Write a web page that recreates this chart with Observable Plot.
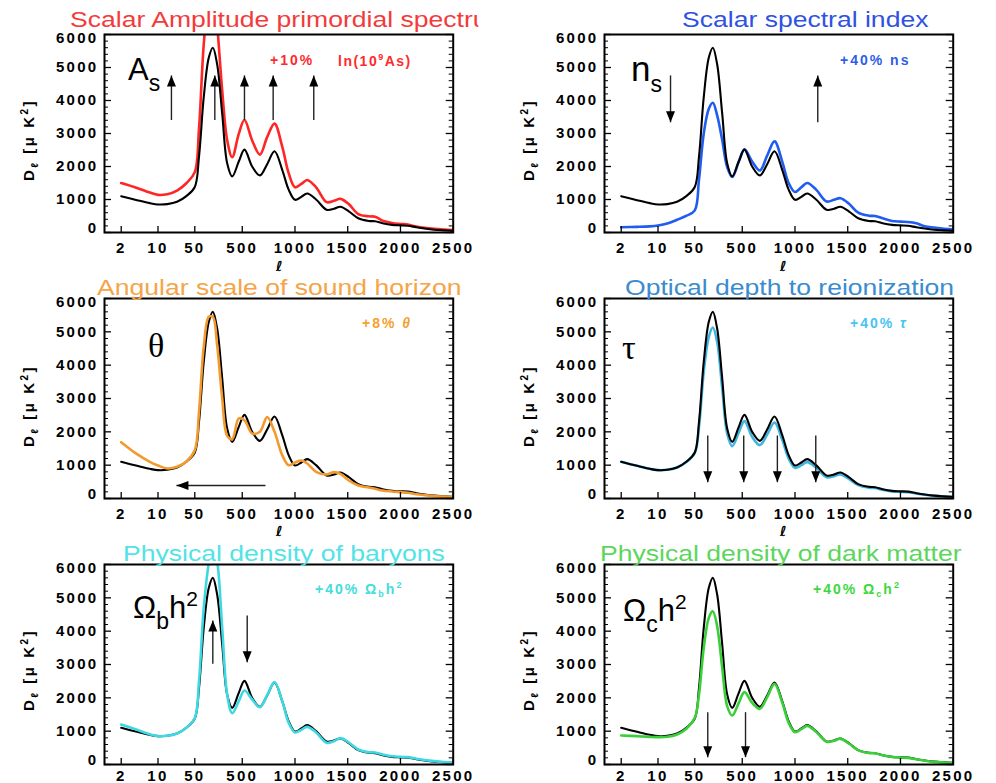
<!DOCTYPE html>
<html><head><meta charset="utf-8">
<script src="https://cdn.jsdelivr.net/npm/d3@7"></script>
<script src="https://cdn.jsdelivr.net/npm/@observablehq/plot@0.6"></script>
<style>
html,body{margin:0;padding:0;background:#fff;}
body{width:996px;height:783px;overflow:hidden;position:relative;font-family:"Liberation Sans",Arial,sans-serif;}
.panel{position:absolute;}
.t{position:absolute;white-space:nowrap;line-height:1;}
.title{font-size:22.5px;transform:scaleX(1.18);transform-origin:0 0;}
.big{font-size:31px;color:#000;}
.big .sub{font-size:23px;position:relative;top:11px;}
.big .sup{font-size:21px;position:relative;top:-12px;}
.serif{font-family:"Liberation Serif","Times New Roman",serif;font-size:34px;}
.small{font-size:14px;font-weight:bold;letter-spacing:2px;}
.small sup,.small sub{font-size:9px;}
.ylab{position:absolute;transform:translate(-50%,-50%) rotate(-90deg);font-weight:bold;font-size:15px;letter-spacing:2.5px;white-space:nowrap;line-height:1;}
.ylab sub,.ylab sup{font-size:10px;}
.ell{position:absolute;font-family:"DejaVu Sans",sans-serif;font-weight:bold;font-style:italic;font-size:14px;line-height:1;}
</style></head><body>
<div id="root"></div>
<script>
// multipole grid
const ell = [2, 4, 7, 10, 15, 23, 35, 50, 90, 135, 183, 221, 262, 310, 357, 405, 467, 521, 594, 667, 736, 806, 879, 940, 1000, 1060, 1116, 1200, 1300, 1370, 1431, 1510, 1600, 1700, 1760, 1830, 1920, 2000, 2070, 2150, 2230, 2320, 2410, 2500];
// fiducial spectrum (black)
const dBase = [1100, 980, 890, 850, 860, 930, 1110, 1380, 2300, 4100, 5300, 5600, 5100, 3600, 2100, 1700, 2150, 2510, 2000, 1730, 2070, 2460, 1900, 1300, 990, 1080, 1180, 1000, 690, 720, 780, 640, 430, 350, 340, 280, 230, 215, 205, 160, 120, 85, 65, 50];
// +10% ln(10^9 As)
const dAs = [1500, 1350, 1210, 1140, 1160, 1270, 1500, 1830, 3150, 5700, 7200, 7600, 6300, 4300, 2800, 2280, 2990, 3410, 2790, 2360, 2890, 3300, 2600, 1800, 1370, 1470, 1590, 1370, 920, 960, 1020, 860, 560, 490, 480, 360, 290, 260, 240, 180, 140, 110, 90, 75];
// +40% ns
const dNs = [160, 170, 185, 210, 270, 385, 510, 670, 1600, 3000, 3750, 3930, 3550, 2800, 1980, 1680, 2150, 2520, 2150, 1880, 2330, 2760, 2150, 1500, 1230, 1370, 1500, 1300, 940, 990, 1040, 880, 600, 510, 500, 430, 350, 330, 320, 280, 190, 150, 115, 95];
// +8% theta
const dTheta = [1690, 1330, 1100, 990, 900, 950, 1120, 1450, 2600, 4550, 5450, 5450, 4600, 3000, 1880, 1780, 2400, 2350, 1950, 2000, 2440, 2000, 1300, 1000, 1080, 1140, 1050, 800, 720, 790, 740, 540, 390, 330, 290, 240, 210, 190, 170, 130, 100, 70, 55, 45];
// +40% tau
const dTau = [1100, 980, 890, 850, 860, 930, 1100, 1370, 2150, 3800, 4850, 5130, 4700, 3300, 1950, 1570, 1980, 2320, 1850, 1600, 1920, 2280, 1760, 1200, 920, 1000, 1090, 930, 640, 670, 720, 590, 400, 325, 315, 260, 215, 200, 190, 150, 110, 80, 60, 45];
// +40% Omega_b h^2
const dOmb = [1200, 1040, 910, 850, 860, 930, 1110, 1390, 2500, 4700, 6050, 6600, 6100, 4100, 2100, 1540, 1900, 2220, 1950, 1720, 2080, 2470, 1900, 1250, 960, 1040, 1130, 960, 650, 700, 790, 660, 450, 370, 360, 300, 250, 230, 220, 175, 135, 100, 75, 60];
// +40% Omega_c h^2
const dOmc = [870, 850, 830, 820, 830, 900, 1080, 1400, 2100, 3500, 4400, 4600, 4150, 2900, 1750, 1470, 1850, 2170, 1850, 1670, 2020, 2420, 1860, 1250, 970, 1060, 1160, 980, 680, 710, 770, 630, 425, 345, 335, 275, 225, 210, 200, 155, 115, 80, 60, 45];

// axis ticks
const yMajor = [0, 1000, 2000, 3000, 4000, 5000, 6000];
const yMinor = [200, 400, 600, 800, 1200, 1400, 1600, 1800, 2200, 2400, 2600, 2800, 3200, 3400, 3600, 3800, 4200, 4400, 4600, 4800, 5200, 5400, 5600, 5800];
const xTickL = [2, 10, 50, 500, 1000, 1500, 2000, 2500];

// arrow annotations: multipole, start value, end value
const arrAsL = [18, 240, 521, 793, 1178];
const arrAsFrom = [3410, 3410, 3410, 3410, 3410];
const arrAsTo = [4760, 4760, 4760, 4760, 4760];
const arrNsL = [17.3, 1216];
const arrNsFrom = [4760, 3340];
const arrNsTo = [3340, 4760];
const arrThL1 = [720];
const arrThL2 = [22.4];
const arrThD = [390];
const arrTauL = [173, 514, 833, 1197];
const arrTauFrom = [1890, 1890, 1890, 1890];
const arrTauTo = [490, 490, 490, 490];
const arrObL = [221, 547];
const arrObFrom = [3020, 4470];
const arrObTo = [4320, 3070];
const arrOcL = [173, 531];
const arrOcFrom = [1570, 1570];
const arrOcTo = [220, 220];

// hybrid axis: log below l=50, linear above
const u = l => l >= 50 ? l - 50 : 499 * Math.log10(l / 50);
const xLab = new Map(xTickL.map(l => [u(l), String(l)]));

const rows = ell.map((l, i) => ({l, base: dBase[i], as: dAs[i], ns: dNs[i], th: dTheta[i], tau: dTau[i], omb: dOmb[i], omc: dOmc[i]}));

const frameL = 104, frameR = 452.7, W = 500;
const frameW = frameR - frameL;

const triUp = {draw(c){c.moveTo(0,0);c.lineTo(4.5,11);c.lineTo(-4.5,11);c.closePath();}};
const triDown = {draw(c){c.moveTo(0,0);c.lineTo(4.5,-11);c.lineTo(-4.5,-11);c.closePath();}};
const triLeft = {draw(c){c.moveTo(0,0);c.lineTo(12,-4.5);c.lineTo(12,4.5);c.closePath();}};

function vArrows(L, from, to) {
  const data = L.map((l, i) => ({l, a: from[i], b: to[i]}));
  return [
    Plot.link(data, {x1: d => u(d.l), x2: d => u(d.l), y1: "a", y2: "b", stroke: "#222", strokeWidth: 1.4}),
    Plot.dot(data.filter(d => d.b > d.a), {x: d => u(d.l), y: "b", symbol: triUp, fill: "#000", stroke: "none"}),
    Plot.dot(data.filter(d => d.b < d.a), {x: d => u(d.l), y: "b", symbol: triDown, fill: "#000", stroke: "none"})
  ];
}
function hArrows(L1, L2, D) {
  const data = L1.map((l, i) => ({a: l, b: L2[i], d: D[i]}));
  return [
    Plot.link(data, {x1: d => u(d.a), x2: d => u(d.b), y1: "d", y2: "d", stroke: "#222", strokeWidth: 1.4}),
    Plot.dot(data, {x: d => u(d.b), y: "d", symbol: triLeft, fill: "#000", stroke: "none"})
  ];
}

function panel({left, top, frameH, key, color, colorOnTop, arrows, xPad = 10}) {
  const colored = Plot.line(rows, {x: d => u(d.l), y: key, stroke: color, strokeWidth: 2.6, curve: "catmull-rom", clip: true});
  const black = Plot.line(rows, {x: d => u(d.l), y: "base", stroke: "#000", strokeWidth: 2.1, curve: "catmull-rom", clip: true});
  const fmt = d => String(d);
  const axOpts = {tickSize: 0, tickPadding: 6, label: null, tickFormat: fmt};
  const chart = Plot.plot({
    width: W, height: 34 + frameH + 44,
    marginLeft: frameL, marginRight: W - frameR, marginTop: 34, marginBottom: 44,
    x: {domain: [-856, 2450]},
    y: {domain: [0, 6000]},
    style: {background: "transparent", fontFamily: "'Liberation Sans', Arial, sans-serif", fontSize: "15px", fontWeight: "bold", letterSpacing: "2.3px", overflow: "visible", color: "#000"},
    marks: [
      ...(colorOnTop ? [black, colored] : [colored, black]),
      ...arrows,
      Plot.ruleY(yMajor, {insetRight: frameW - 7, stroke: "#000", strokeWidth: 1.3}),
      Plot.ruleY(yMinor, {insetRight: frameW - 4, stroke: "#000", strokeWidth: 1}),
      Plot.ruleY(yMajor, {insetLeft: frameW - 7, stroke: "#000", strokeWidth: 1.3}),
      Plot.ruleY(yMinor, {insetLeft: frameW - 4, stroke: "#000", strokeWidth: 1}),
      Plot.ruleX(xTickL.map(u), {insetTop: frameH - 6, stroke: "#000", strokeWidth: 1.3}),
      Plot.axisY(yMajor.filter(v => v > 0 && v < 6000), axOpts),
      Plot.axisY([6000], {...axOpts, dy: 4}),
      Plot.axisY([0], {...axOpts, dy: -4}),
      Plot.axisX(xTickL.map(u), {tickSize: 0, tickPadding: xPad, label: null, tickFormat: d => xLab.get(d)}),
      Plot.frame({stroke: "#000", strokeWidth: 2})
    ]
  });
  chart.classList.add("panel");
  chart.style.left = left + "px";
  chart.style.top = top + "px";
  document.getElementById("root").appendChild(chart);
}

panel({left: 0, top: 0, frameH: 198, key: "as", color: "#ff2626", colorOnTop: false, arrows: vArrows(arrAsL, arrAsFrom, arrAsTo)});
panel({left: 500, top: 0, frameH: 198, key: "ns", color: "#1f5cf0", colorOnTop: false, arrows: vArrows(arrNsL, arrNsFrom, arrNsTo)});
panel({left: 0, top: 264, frameH: 200, key: "th", color: "#f39a2e", colorOnTop: true, arrows: hArrows(arrThL1, arrThL2, arrThD)});
panel({left: 500, top: 264, frameH: 200, key: "tau", color: "#3fb4e0", colorOnTop: false, arrows: vArrows(arrTauL, arrTauFrom, arrTauTo)});
panel({left: 0, top: 530, frameH: 200, key: "omb", color: "#3ed8e2", colorOnTop: true, arrows: vArrows(arrObL, arrObFrom, arrObTo), xPad: 6});
panel({left: 500, top: 530, frameH: 200, key: "omc", color: "#38d038", colorOnTop: true, arrows: vArrows(arrOcL, arrOcFrom, arrOcTo), xPad: 6});
</script>

<!-- titles -->
<div class="t title" style="left:70px;top:9px;width:346px;overflow:hidden;color:#f23b3b;">Scalar Amplitude primordial spectrum</div>
<div class="t title" style="left:682px;top:9px;color:#2f52e2;">Scalar spectral index</div>
<div class="t title" style="left:97px;top:277px;color:#f5a448;">Angular scale of sound horizon</div>
<div class="t title" style="left:625px;top:277px;color:#3a8ccf;">Optical depth to reionization</div>
<div class="t title" style="left:123px;top:543px;color:#52e3e6;">Physical density of baryons</div>
<div class="t title" style="left:600px;top:543px;color:#5cd65c;">Physical density of dark matter</div>

<!-- parameter symbols -->
<div class="t big" style="left:128px;top:54px;">A<span class="sub">s</span></div>
<div class="t big" style="left:631px;top:51px;font-size:35px;">n<span class="sub">s</span></div>
<div class="t serif" style="left:148px;top:329px;">θ</div>
<div class="t serif" style="left:622px;top:331px;">τ</div>
<div class="t big" style="left:133px;top:592px;">Ω<span class="sub">b</span>h<span class="sup">2</span></div>
<div class="t big" style="left:623px;top:595px;">Ω<span class="sub">c</span>h<span class="sup">2</span></div>

<!-- variation labels -->
<div class="t small" style="left:270px;top:53px;color:#ff2b2b;">+10%</div>
<div class="t small" style="left:338px;top:53px;color:#ff2b2b;letter-spacing:1.5px;">ln(10<sup>9</sup>As)</div>
<div class="t small" style="left:840px;top:53px;color:#2f5ee8;">+40% ns</div>
<div class="t small" style="left:362px;top:316px;color:#f5a030;">+8% <i>θ</i></div>
<div class="t small" style="left:850px;top:316px;color:#48c4f0;">+40% <i>τ</i></div>
<div class="t small" style="left:315px;top:581px;color:#44dcdc;">+40% Ω<sub>b</sub>h<sup>2</sup></div>
<div class="t small" style="left:813px;top:581px;color:#3ed83e;">+40% Ω<sub>c</sub>h<sup>2</sup></div>

<!-- y axis titles -->
<div class="ylab" style="left:30px;top:140px;">D<sub>ℓ</sub> [μ K<sup>2</sup>]</div>
<div class="ylab" style="left:530px;top:140px;">D<sub>ℓ</sub> [μ K<sup>2</sup>]</div>
<div class="ylab" style="left:30px;top:406px;">D<sub>ℓ</sub> [μ K<sup>2</sup>]</div>
<div class="ylab" style="left:530px;top:406px;">D<sub>ℓ</sub> [μ K<sup>2</sup>]</div>
<div class="ylab" style="left:30px;top:670px;">D<sub>ℓ</sub> [μ K<sup>2</sup>]</div>
<div class="ylab" style="left:530px;top:670px;">D<sub>ℓ</sub> [μ K<sup>2</sup>]</div>

<!-- x axis symbol -->
<div class="ell" style="left:276px;top:259px;">ℓ</div>
<div class="ell" style="left:780px;top:259px;">ℓ</div>
<div class="ell" style="left:276px;top:524px;">ℓ</div>
<div class="ell" style="left:780px;top:524px;">ℓ</div>
</body></html>
